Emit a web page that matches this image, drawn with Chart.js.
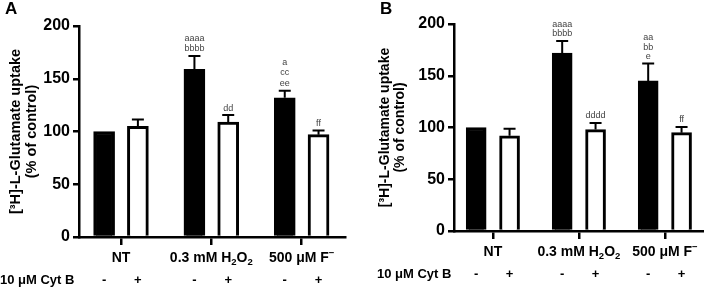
<!DOCTYPE html>
<html>
<head>
<meta charset="utf-8">
<script src="https://cdn.jsdelivr.net/npm/chart.js@4.4.1/dist/chart.umd.min.js"></script>
<style>
html, body { margin: 0; padding: 0; background: #fff; }
#wrap { display: flex; width: 704px; height: 287px; }
canvas { display: block; }
</style>
</head>
<body>
<div id="wrap">
    <canvas id="chartA" width="352" height="287"></canvas>
    <canvas id="chartB" width="352" height="287"></canvas>
</div>
<script>
// --- данные ---
// подписи групп: куски текста [текст, 'n' | 'sub' | 'sup']
const groupLabels = [
    [['NT', 'n']],
    [['0.3 mM H', 'n'], ['2', 'sub'], ['O', 'n'], ['2', 'sub']],
    [['500 μM F', 'n'], ['−', 'sup']]
];
const cytBLabel = '10 μM Cyt B';
const cytBSigns = ['-', '+'];
const yTicks = [0, 50, 100, 150, 200];
const yTitle = ['[³H]-L-Glutamate uptake', '(% of control)'];

// Панель A
const meanMinusA = [100, 159, 132];
const meanPlusA = [105, 109, 97];
const semMinusA = [0, 12.6, 6.6];
const semPlusA = [6.4, 6.6, 4.0];
const lettersMinusA = [[], ['aaaa', 'bbbb'], ['a', 'cc', 'ee']];
const lettersPlusA = [[], ['dd'], ['ff']];

// Панель B
const meanMinusB = [100, 172, 145];
const meanPlusB = [92, 98, 95];
const semMinusB = [0, 11.6, 16.8];
const semPlusB = [6.8, 6.4, 5.5];
const lettersMinusB = [[], ['aaaa', 'bbbb'], ['aa', 'bb', 'e']];
const lettersPlusB = [[], ['dddd'], ['ff']];

const FONT = 'Arial, "Liberation Sans", Helvetica, sans-serif';

/**
 * Рисуем подписи, планки погрешностей и буквы значимости поверх графика
 */
const extrasPlugin = {
    id: 'extras',
    afterDatasetsDraw(chart) {
        const cfg = chart.options.plugins.extras;
        const ctx = chart.ctx;
        const xs = chart.scales.x;
        const ys = chart.scales.y;
        const meta = chart.getDatasetMeta(0);
        ctx.save();

        // планки погрешностей (только вверх) и буквы
        meta.data.forEach((bar, i) => {
            const g = Math.floor(i / 2);
            const isPlus = i % 2 === 1;
            const mean = isPlus ? cfg.meanPlus[g] : cfg.meanMinus[g];
            const sem = isPlus ? cfg.semPlus[g] : cfg.semMinus[g];
            const letters = isPlus ? cfg.lettersPlus[g] : cfg.lettersMinus[g];
            const px = bar.x;
            const yTop = ys.getPixelForValue(mean);
            const yErr = ys.getPixelForValue(mean + sem);
            if (sem > 0) {
                ctx.strokeStyle = '#000';
                ctx.lineWidth = 2;
                ctx.beginPath();
                ctx.moveTo(px, yTop);
                ctx.lineTo(px, yErr);
                ctx.moveTo(px - 6, yErr);
                ctx.lineTo(px + 6, yErr);
                ctx.stroke();
            }
            ctx.fillStyle = '#444';
            ctx.font = '9px ' + FONT;
            ctx.textAlign = 'center';
            ctx.textBaseline = 'middle';
            const n = letters.length;
            letters.forEach((txt, k) => {
                const cy = yErr - 7 - (n - 1 - k) * cfg.letterGap;
                ctx.fillText(txt, px, cy);
            });

            // знак Cyt B под столбиком
            ctx.fillStyle = '#000';
            ctx.font = 'bold 13px ' + FONT;
            ctx.fillText(cytBSigns[i % 2], px, cfg.rowY);
        });

        // подписи групп с индексами
        ctx.fillStyle = '#000';
        ctx.textBaseline = 'middle';
        ctx.textAlign = 'left';
        groupLabels.forEach((parts, g) => {
            const cx = xs.getPixelForValue(g);
            const sizeOf = t => t === 'n' ? 14 : 9.5;
            let total = 0;
            parts.forEach(([txt, t]) => {
                ctx.font = 'bold ' + sizeOf(t) + 'px ' + FONT;
                total += ctx.measureText(txt).width;
            });
            let x = cx - total / 2;
            parts.forEach(([txt, t]) => {
                ctx.font = 'bold ' + sizeOf(t) + 'px ' + FONT;
                const dy = t === 'sub' ? 4 : (t === 'sup' ? -5 : 0);
                ctx.fillText(txt, x, cfg.labelY + dy);
                x += ctx.measureText(txt).width;
            });
        });

        // строка Cyt B
        ctx.font = 'bold 13px ' + FONT;
        ctx.fillText(cytBLabel, cfg.rowLabelX, cfg.rowY);

        // буква панели
        ctx.font = 'bold 17px ' + FONT;
        ctx.textBaseline = 'top';
        ctx.fillText(cfg.panel, cfg.panelX, 1);
        ctx.restore();
    }
};

function makePanel(canvasId, cfg) {
    const points = [];
    const colors = [];
    groupLabels.forEach((_, g) => {
        points.push({ x: g - cfg.offset, y: cfg.meanMinus[g] });
        points.push({ x: g + cfg.offset, y: cfg.meanPlus[g] });
        colors.push('#000', '#fff');
    });

    return new Chart(document.getElementById(canvasId), {
        type: 'bar',
        data: {
            datasets: [{
                data: points,
                backgroundColor: colors,
                borderColor: '#000',
                borderWidth: 3,
                borderSkipped: 'start',
                barThickness: cfg.barW
            }]
        },
        options: {
            responsive: false,
            animation: false,
            devicePixelRatio: 1,
            layout: { padding: { top: cfg.padTop, right: cfg.padRight, bottom: 0, left: 0 } },
            plugins: {
                legend: { display: false },
                tooltip: { enabled: false },
                extras: cfg
            },
            scales: {
                x: {
                    type: 'linear',
                    min: cfg.xMin,
                    max: cfg.xMax,
                    offset: false,
                    afterBuildTicks: s => { s.ticks = groupLabels.map((_, i) => ({ value: i })); },
                    afterFit: s => { s.height = cfg.xAxisH; },
                    border: { display: true, color: '#000', width: 2.5 },
                    grid: { display: true, offset: false, drawOnChartArea: false, drawTicks: true, tickLength: 8, color: '#000', lineWidth: 2.5 },
                    ticks: { display: false }
                },
                y: {
                    min: 0,
                    max: 200,
                    afterBuildTicks: s => { s.ticks = yTicks.map(v => ({ value: v })); },
                    afterFit: s => { s.width = cfg.axisLeft; },
                    border: { display: true, color: '#000', width: 2.5 },
                    grid: { display: true, drawOnChartArea: false, drawTicks: true, tickLength: 6, color: '#000', lineWidth: 2.5 },
                    ticks: { color: '#000', padding: 3, font: { family: FONT, size: 16, weight: 'bold' } },
                    title: {
                        display: true,
                        text: yTitle,
                        color: '#000',
                        font: { family: FONT, size: cfg.titleSize, weight: 'bold', lineHeight: 1.1 },
                        padding: { top: cfg.titlePad, bottom: 0 }
                    }
                }
            }
        },
        plugins: [extrasPlugin]
    });
}

makePanel('chartA', {
    panel: 'A', panelX: 5,
    meanMinus: meanMinusA, meanPlus: meanPlusA,
    semMinus: semMinusA, semPlus: semPlusA,
    lettersMinus: lettersMinusA, lettersPlus: lettersPlusA,
    letterGap: 10.8,
    offset: 0.187, barW: 21,
    xMin: -0.465, xMax: 2.48,
    axisLeft: 79, padTop: 26, padRight: 7, xAxisH: 50,
    titleSize: 14.5, titlePad: 8.4,
    labelY: 258, rowY: 280, rowLabelX: 0
});

makePanel('chartB', {
    panel: 'B', panelX: 28,
    meanMinus: meanMinusB, meanPlus: meanPlusB,
    semMinus: semMinusB, semPlus: semPlusB,
    lettersMinus: lettersMinusB, lettersPlus: lettersPlusB,
    letterGap: 9.5,
    offset: 0.194, barW: 20,
    xMin: -0.452, xMax: 2.455,
    axisLeft: 102, padTop: 24, padRight: 0, xAxisH: 56,
    titleSize: 14, titlePad: 25,
    labelY: 252.5, rowY: 274, rowLabelX: 25
});
</script>
</body>
</html>
